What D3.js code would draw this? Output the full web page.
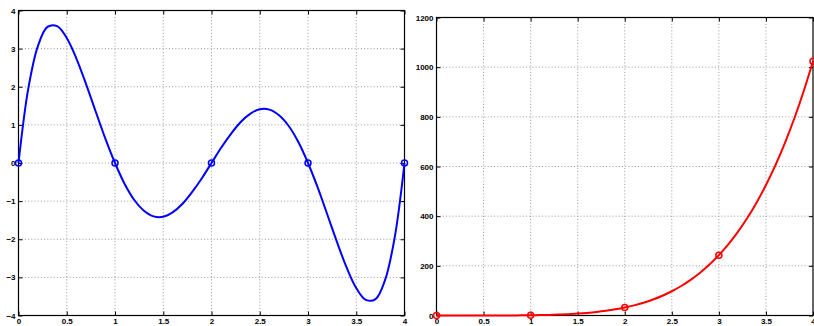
<!DOCTYPE html>
<html>
<head>
<meta charset="utf-8">
<script src="https://cdn.jsdelivr.net/npm/d3@7"></script>
<style>
  body { margin: 0; background: #fff; }
  svg { display: block; }
  .tick text { font-family: "Liberation Sans", Arial, sans-serif; font-weight: bold; font-size: 8px; fill: #000; }
  .grid line { stroke: #999; stroke-dasharray: 1,2.2; stroke-width: 1; }
</style>
</head>
<body>
<svg id="chart" width="814" height="326"></svg>
<script>
// values
var xs = [0, 0.1, 0.2, 0.3, 0.4, 0.5, 0.6, 0.7, 0.8, 0.9,
  1, 1.1, 1.2, 1.3, 1.4, 1.5, 1.6, 1.7, 1.8, 1.9,
  2, 2.1, 2.2, 2.3, 2.4, 2.5, 2.6, 2.7, 2.8, 2.9,
  3, 3.1, 3.2, 3.3, 3.4, 3.5, 3.6, 3.7, 3.8, 3.9, 4];

var leftCurve = [0, 1.93, 3.06, 3.57, 3.59, 3.28, 2.74, 2.07, 1.35, 0.64,
  0, -0.55, -0.97, -1.25, -1.40, -1.41, -1.29, -1.07, -0.76, -0.40,
  0, 0.40, 0.76, 1.07, 1.29, 1.41, 1.40, 1.25, 0.97, 0.55,
  0, -0.64, -1.35, -2.07, -2.74, -3.28, -3.59, -3.57, -3.06, -1.93, 0];

var rightCurve = [0, 0, 0, 0, 0.01, 0.03, 0.08, 0.17, 0.33, 0.59,
  1, 1.6, 2.5, 3.7, 5.4, 7.6, 10.5, 14.2, 18.9, 24.8,
  32, 40.8, 51.5, 64.4, 79.6, 97.7, 118.8, 143.5, 172.1, 205.1,
  243, 286.3, 335.5, 391.4, 454.4, 525.2, 604.7, 693.4, 792.4, 902.2, 1024];

var nodesX = [0, 1, 2, 3, 4];
var leftNodes = [0, 0, 0, 0, 0];
var rightNodes = [0, 1, 32, 243, 1024];

var leftYTicks = [-4, -3, -2, -1, 0, 1, 2, 3, 4];
var rightYTicks = [0, 200, 400, 600, 800, 1000, 1200];
var xTicks = [0, 0.5, 1, 1.5, 2, 2.5, 3, 3.5, 4];

var svg = d3.select("#chart");

function panel(box, yDomain, yTicks, curve, nodes, color) {
  var x = d3.scaleLinear().domain([0, 4]).range([box.left, box.right]);
  var y = d3.scaleLinear().domain(yDomain).range([box.bottom, box.top]);
  var g = svg.append("g");

  // dotted grid
  var grid = g.append("g").attr("class", "grid");
  grid.selectAll(".gx").data(xTicks.slice(1, -1)).enter().append("line")
    .attr("x1", function (d) { return x(d); }).attr("x2", function (d) { return x(d); })
    .attr("y1", box.top).attr("y2", box.bottom);
  grid.selectAll(".gy").data(yTicks.slice(1, -1)).enter().append("line")
    .attr("y1", function (d) { return y(d); }).attr("y2", function (d) { return y(d); })
    .attr("x1", box.left).attr("x2", box.right);

  // axes, ticks inward on all sides
  var fmt = d3.format("");
  g.append("g").attr("transform", "translate(0," + box.bottom + ")")
    .call(d3.axisBottom(x).tickValues(xTicks).tickSizeInner(-4).tickSizeOuter(0).tickPadding(3).tickFormat(fmt));
  g.append("g").attr("transform", "translate(0," + box.top + ")")
    .call(d3.axisTop(x).tickValues(xTicks).tickSizeInner(-4).tickSizeOuter(0).tickFormat(""));
  g.append("g").attr("transform", "translate(" + box.left + ",0)")
    .call(d3.axisLeft(y).tickValues(yTicks).tickSizeInner(-4).tickSizeOuter(0).tickPadding(3).tickFormat(d3.format("")));
  g.append("g").attr("transform", "translate(" + box.right + ",0)")
    .call(d3.axisRight(y).tickValues(yTicks).tickSizeInner(-4).tickSizeOuter(0).tickFormat(""));
  g.selectAll(".domain").remove();
  g.selectAll(".tick line").attr("stroke", "#000");

  g.append("rect")
    .attr("x", box.left).attr("y", box.top)
    .attr("width", box.right - box.left).attr("height", box.bottom - box.top)
    .attr("fill", "none").attr("stroke", "#000").attr("stroke-width", 1.2);

  var line = d3.line()
    .x(function (d, i) { return x(xs[i]); })
    .y(function (d) { return y(d); })
    .curve(d3.curveCatmullRom);

  g.append("path").datum(curve)
    .attr("d", line)
    .attr("fill", "none").attr("stroke", color).attr("stroke-width", 2);

  g.selectAll(".node").data(nodes).enter().append("circle")
    .attr("cx", function (d, i) { return x(nodesX[i]); })
    .attr("cy", function (d) { return y(d); })
    .attr("r", 3)
    .attr("fill", "none").attr("stroke", color).attr("stroke-width", 1.5);
}

panel({ left: 18.5, right: 404.5, top: 10.5, bottom: 315.5 }, [-4, 4], leftYTicks, leftCurve, leftNodes, "#0000ff");
panel({ left: 436.5, right: 813, top: 17.5, bottom: 315.5 }, [0, 1200], rightYTicks, rightCurve, rightNodes, "#ff0000");
</script>
</body>
</html>
